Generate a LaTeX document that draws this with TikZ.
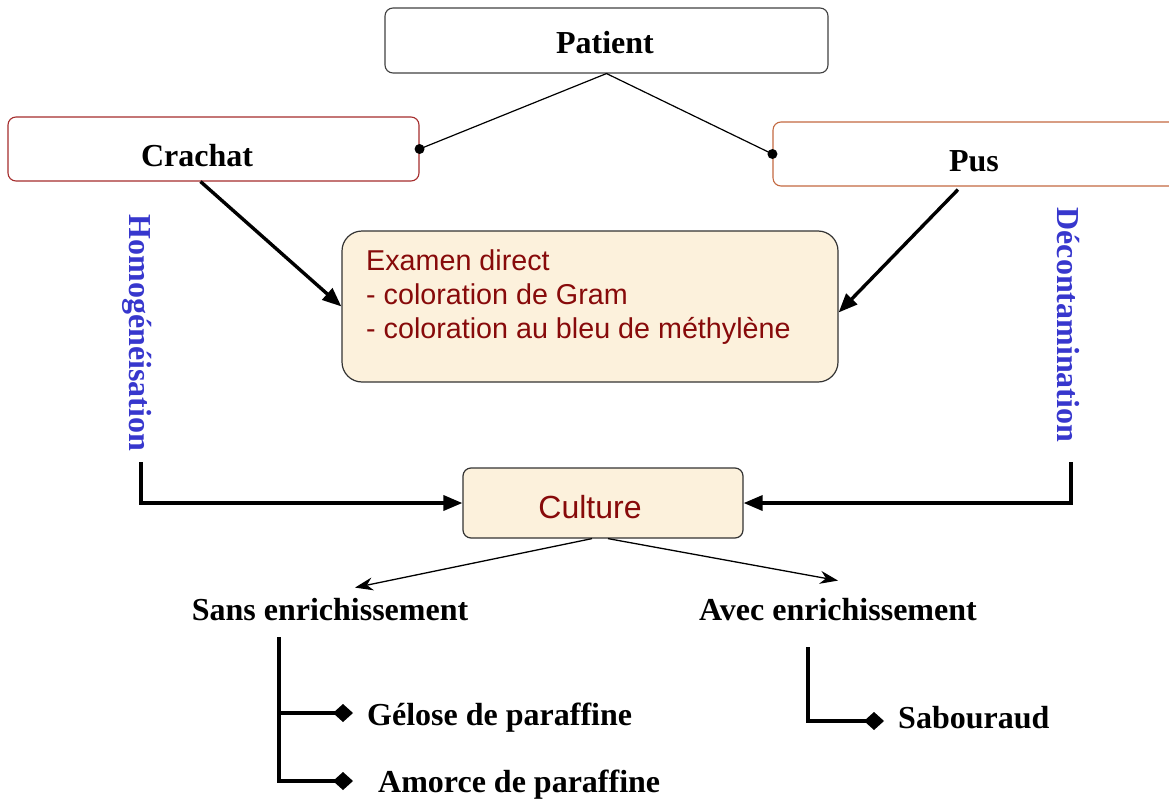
\documentclass[tikz,border=0pt]{standalone}
\usepackage{fontspec}
\setmainfont{Liberation Serif}
\setsansfont{Liberation Sans}
\usetikzlibrary{arrows.meta,calc,positioning}
\definecolor{crachatred}{RGB}{165,45,45}
\definecolor{pusorange}{RGB}{195,105,65}
\definecolor{parchment}{RGB}{252,241,220}
\definecolor{examred}{RGB}{135,10,10}
\definecolor{stepblue}{RGB}{55,55,205}
\begin{document}
\begin{tikzpicture}[x=1pt,y=-1pt,
    boxnode/.style={draw,rounded corners=8pt,line width=1.1pt,inner sep=0pt},
    parchnode/.style={draw=black!80,fill=parchment,line width=1.2pt,inner sep=0pt},
    serifbold/.style={font=\fontsize{32}{38}\selectfont\bfseries,inner sep=0pt},
    arialred/.style={font=\sffamily\fontsize{28.7}{34}\selectfont,text=examred,inner sep=0pt},
    steplabel/.style={serifbold,text=stepblue,rotate=-90},
    bigarrow/.style={line width=3.4pt,-{Triangle[length=19pt,width=15pt]}},
    thinarrow/.style={line width=1.3pt,-{Stealth[length=18pt,width=13pt]}},
    treeline/.style={line width=3.2pt,-{Diamond[length=20pt,width=18pt]}}]
\useasboundingbox (0,0) rectangle (1169,800);

% boxes
\node[boxnode,draw=black!75,minimum width=443pt,minimum height=65pt] (patient) at (606.5,40.5) {};
\node[boxnode,draw=crachatred,minimum width=411pt,minimum height=64pt] (crachat) at (213.5,149) {};
\node[boxnode,draw=pusorange,minimum width=412pt,minimum height=64pt] (pus) at (979,154) {};
\node[parchnode,rounded corners=20pt,minimum width=496pt,minimum height=151pt] (examen) at (590,306.5) {};
\node[parchnode,rounded corners=8pt,minimum width=280pt,minimum height=70pt] (culture) at (603,503) {};

% texts
\node[serifbold,anchor=base] (patienttxt) at (605,53) {Patient};
\node[serifbold,anchor=base] (crachattxt) at (197,166) {Crachat};
\node[serifbold,anchor=base] (pustxt) at (974,171) {Pus};
\node[arialred,anchor=base west,align=left] (examentxt) at (366,338)
  {Examen direct\\- coloration de Gram\\- coloration au bleu de méthylène};
\node[arialred,font=\sffamily\fontsize{32}{38}\selectfont,anchor=base] (culturetxt) at (590,518) {Culture};
\node[steplabel] (homog) at (137,333) {Homogénéisation};
\node[steplabel] (decont) at (1068,325) {Décontamination};
\node[serifbold,anchor=base] (sans) at (330,620) {Sans enrichissement};
\node[serifbold,anchor=base] (avec) at (838,620) {Avec enrichissement};
\node[serifbold,anchor=base west] (gelose) at (367,725) {Gélose de paraffine};
\node[serifbold,anchor=base west] (amorce) at (378,792) {Amorce de paraffine};
\node[serifbold,anchor=base west] (sabouraud) at (898,728) {Sabouraud};

% patient to samples
\draw[line width=1.2pt] (crachat.east) -- (patient.south) -- (pus.west);
\fill (crachat.east) circle (5);
\fill (pus.west) circle (5);

% to examen direct
\draw[bigarrow] ($(crachat.south)+(-13,0)$) -- (examen.west);
\draw[bigarrow] ($(pus.south)+(-21,3)$) -- ($(examen.east)+(0,6)$);

% to culture
\coordinate (homfoot) at (141,462);
\coordinate (decfoot) at (1071,462);
\draw[bigarrow] (homfoot) |- (culture.west);
\draw[bigarrow] (decfoot) |- (culture.east);

% culture branches
\draw[thinarrow] ($(culture.south)+(-11,0)$) -- ($(sans.north)+(25,-10)$);
\draw[thinarrow] ($(culture.south)+(5,0)$) -- ($(avec.north)+(0,-17)$);

% media
\coordinate (sanstop) at (279,637);
\coordinate (avectop) at (808,647);
\coordinate (gelosetip) at (353,713);
\coordinate (amorcetip) at (353,781);
\coordinate (saboutip) at (884,721);
\draw[treeline] (sanstop) |- (gelosetip);
\draw[treeline] (sanstop) |- (amorcetip);
\draw[treeline] (avectop) |- (saboutip);
\end{tikzpicture}
\end{document}
